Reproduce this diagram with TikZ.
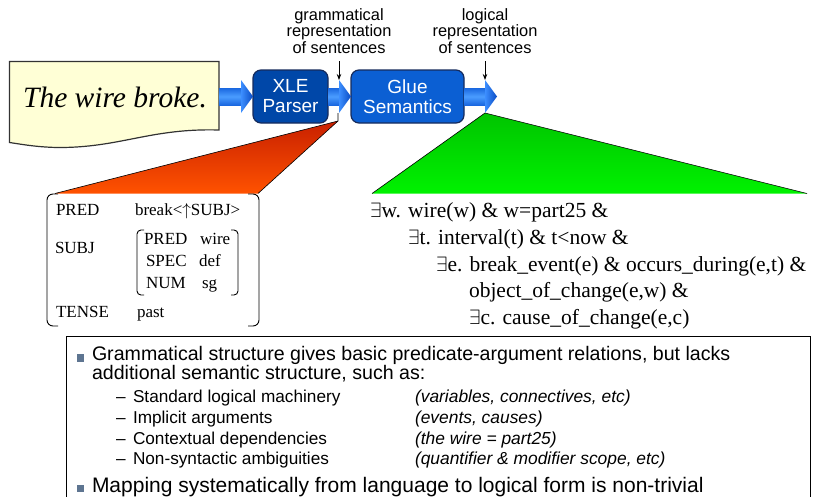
\documentclass[tikz,border=0pt]{standalone}
\usepackage{fontspec}
\setmainfont{Liberation Serif}
\setsansfont{Liberation Sans}
\usetikzlibrary{arrows.meta,calc}

\definecolor{paper}{HTML}{FFFFD6}
\definecolor{xleblue}{HTML}{0047A8}
\definecolor{glueblue}{HTML}{0B5FD3}
\definecolor{boxline}{HTML}{162B5C}
\definecolor{shaftlight}{HTML}{4A9CFF}
\definecolor{shaftdark}{HTML}{1A68E0}
\definecolor{headlight}{HTML}{3C8EFF}
\definecolor{headdark}{HTML}{0A4CC4}
\definecolor{fanredtop}{HTML}{C82000}
\definecolor{fanredbot}{HTML}{FF5200}
\definecolor{fangreentop}{HTML}{00C400}
\definecolor{fangreenbot}{HTML}{00F200}
\definecolor{bulletgray}{HTML}{5E7591}

% broad blue pipeline arrow: shaft from #1, tip at #2
\newcommand{\fatarrow}[2]{%
  \shade[top color=shaftdark, bottom color=shaftdark, middle color=shaftlight]
    let \p1=#1, \p2=#2 in (\x1,\y2+8.5pt) rectangle (\x2-12pt,\y2-8.5pt);
  \shade[left color=headlight, right color=headdark]
    let \p2=#2 in (\x2-12pt,\y2+16.5pt) -- (\x2,\y2) -- (\x2-12pt,\y2-16.5pt) -- cycle;
}

\begin{document}
\begin{tikzpicture}[x=1pt,y=-1pt,
  every node/.style={inner sep=0pt, outer sep=0pt},
  stagebox/.style={draw=boxline, line width=1.2pt, rounded corners=8pt, text=white,
    align=center, font=\sffamily\fontsize{19}{20}\selectfont, minimum height=53pt},
  caption/.style={align=center, font=\sffamily\fontsize{16.4}{16.5}\selectfont},
  avm/.style={anchor=base west, font=\fontsize{17}{20}\selectfont},
  logic/.style={anchor=base west, font=\fontsize{21.5}{26}\selectfont},
  bulletline/.style={anchor=base west, align=left, font=\sffamily\fontsize{19.6}{15.5}\selectfont},
  lastline/.style={anchor=base west, font=\sffamily\fontsize{21}{22}\selectfont},
  subline/.style={anchor=base west, font=\sffamily\fontsize{17.2}{20}\selectfont},
  aside/.style={anchor=base west, font=\sffamily\itshape\fontsize{17.4}{20}\selectfont},
  avmbracket/.style={line width=0.9pt},
  fanedge/.style={draw=black, line width=0.6pt},
  pointer/.style={-{Stealth[length=6pt,width=4.5pt]}, line width=0.8pt}
]
\useasboundingbox (0,0) rectangle (816,496);

% the input sentence on a sheet of paper
\filldraw[fill=paper, draw=black!80, line width=1.2pt]
  (9.5,61.5) -- (219,61.5) -- (219,130)
  .. controls (150,128) and (120,148) .. (57,147.5)
  .. controls (35,147) and (20,144) .. (9.5,142.5) -- cycle;
\node[font=\itshape\fontsize{29.5}{30}\selectfont] (notetext) at (115,97) {The wire broke.};
\coordinate (noteedge) at (219,96.5);

% pipeline stages
\node[stagebox, fill=xleblue, minimum width=75pt] (xle) at (290.5,96.5) {XLE\\Parser};
\node[stagebox, fill=glueblue, minimum width=113pt] (glue) at (407.5,96.5) {Glue\\Semantics};
\coordinate (logout) at (497,96.5);

\fatarrow{(noteedge)}{(xle.west)}
\fatarrow{(xle.east)}{(glue.west)}
\fatarrow{(glue.east)}{(logout)}

% captions over the intermediate results
\node[caption, anchor=north] (gram) at (339,8.5) {grammatical\\representation\\of sentences};
\node[caption, anchor=north] (logi) at (485,8.5) {logical\\representation\\of sentences};
\coordinate (gramtip) at (339,80);
\coordinate (logitip) at (485,80);
\draw[pointer] (gram.south |- 0,61) -- (gramtip);
\draw[pointer] (logi.south |- 0,61) -- (logitip);

% fans opening onto the two representations
\shade[top color=fanredtop, bottom color=fanredbot] (338,121) -- (258,193.5) -- (55,193.5) -- cycle;
\draw[fanedge] (338,113) -- (338,121) -- (258,193.5);
\draw[fanedge] (55,193.5) -- (338,121);
\shade[top color=fangreentop, bottom color=fangreenbot] (485,113) -- (807,193.5) -- (372,193.5) -- cycle;
\draw[fanedge] (372,193.5) -- (485,113) -- (807,193.5);

% f-structure
\draw[avmbracket, rounded corners=6pt] (58,194) -- (47,194) -- (47,326) -- (58,326);
\draw[avmbracket, rounded corners=6pt] (248,194) -- (259,194) -- (259,326) -- (248,326);
\draw[avmbracket, rounded corners=4pt] (144,230) -- (137,230) -- (137,295) -- (144,295);
\draw[avmbracket, rounded corners=4pt] (231,230) -- (238,230) -- (238,295) -- (231,295);
\node[avm] (pred) at (56,215) {PRED};
\node[avm] (predval) at (135,215.5) {break<$\uparrow$SUBJ>};
\node[avm] (subj) at (55,253) {SUBJ};
\node[avm] (ipred) at (144,244) {PRED};
\node[avm] (iwire) at (200,244) {wire};
\node[avm] (ispec) at (146,266.5) {SPEC};
\node[avm] (idef) at (199,266.5) {def};
\node[avm] (inum) at (146,288.5) {NUM};
\node[avm] (isg) at (202,288.5) {sg};
\node[avm] (tense) at (56,317) {TENSE};
\node[avm] (past) at (137,317) {past};

% logical form
\node[logic] (l1) at (370,217) {$\exists$w. wire(w) \& w=part25 \&};
\node[logic] (l2) at (408,244) {$\exists$t. interval(t) \& t<now \&};
\node[logic] (l3) at (436,271) {$\exists$e. break\_event(e) \& occurs\_during(e,t) \&};
\node[logic] (l4) at (469,297.5) {object\_of\_change(e,w) \&};
\node[logic] (l5) at (469,324) {$\exists$c. cause\_of\_change(e,c)};

% notes (a multi-line node sits on the baseline of its last line)
\draw[line width=1pt] (66,500) -- (66,336.5) -- (810,336.5) -- (810,500);
\fill[bulletgray] (76.5,354) rectangle (84,361.5);
\node[bulletline] (b1) at (92,379.5) {Grammatical structure gives basic predicate-argument relations, but lacks\\additional semantic structure, such as:};
\node[subline] (d1) at (116,402.5) {–};
\node[subline] (t1) at (133,402.5) {Standard logical machinery};
\node[aside] (a1) at (415,402.5) {(variables, connectives, etc)};
\node[subline] (d2) at (116,423.5) {–};
\node[subline] (t2) at (133,423.5) {Implicit arguments};
\node[aside] (a2) at (415,423.5) {(events, causes)};
\node[subline] (d3) at (116,444) {–};
\node[subline] (t3) at (133,444) {Contextual dependencies};
\node[aside] (a3) at (415,444) {(the wire = part25)};
\node[subline] (d4) at (116,464.5) {–};
\node[subline] (t4) at (133,464.5) {Non-syntactic ambiguities};
\node[aside] (a4) at (415,464.5) {(quantifier \& modifier scope, etc)};
\fill[bulletgray] (76.5,484.5) rectangle (84,492);
\node[lastline] (b2) at (92,492.5) {Mapping systematically from language to logical form is non-trivial};
\end{tikzpicture}
\end{document}
